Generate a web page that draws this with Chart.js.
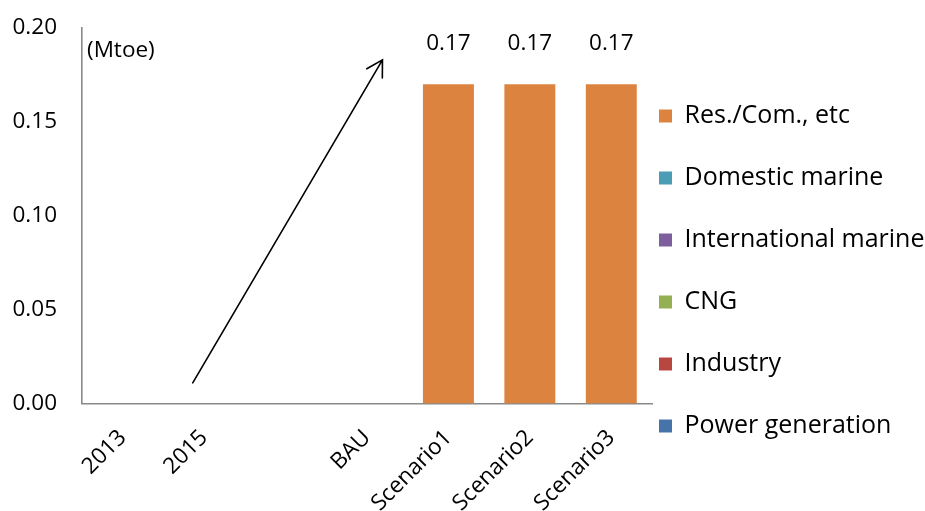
<!DOCTYPE html>
<html>
<head>
<meta charset="utf-8">
<title>Mtoe by sector</title>
<script src="https://cdn.jsdelivr.net/npm/chart.js@4/dist/chart.umd.min.js"></script>
<style>
  html, body { margin: 0; padding: 0; background: #ffffff; }
  canvas { display: block; }
</style>
</head>
<body>
<canvas id="chart" width="925" height="511"></canvas>
<script>
// ---- data ----
const categories = ['2013', '2015', '', 'BAU', 'Scenario1', 'Scenario2', 'Scenario3'];
const powerGeneration     = [0, 0, null, 0, 0, 0, 0];
const industry            = [0, 0, null, 0, 0, 0, 0];
const cng                 = [0, 0, null, 0, 0, 0, 0];
const internationalMarine = [0, 0, null, 0, 0, 0, 0];
const domesticMarine      = [0, 0, null, 0, 0, 0, 0];
const resCom              = [0, 0, null, 0, 0.17, 0.17, 0.17];
const yMin = 0;
const yMax = 0.2;
const yStep = 0.05;
const unitLabel = '(Mtoe)';
// trend arrow ends, as [category index, Mtoe]
const arrowFrom = [0.86, 0.011];
const arrowTo = [3.19, 0.183];

// ---- styling ----
const FONT = '"Open Sans"';
const AXIS_FONT_SIZE = 22.5;
const LEGEND_FONT_SIZE = 25;
const AXIS_COLOR = '#898989';

Chart.defaults.font.family = FONT;
Chart.defaults.font.size = AXIS_FONT_SIZE;
Chart.defaults.color = '#000000';

function series(label, data, color) {
  return {
    label,
    data,
    backgroundColor: color,
    borderWidth: 0,
    categoryPercentage: 1,
    barPercentage: 0.626
  };
}

// legend sits just right of the plot, with wide row spacing
const legendPlacement = {
  id: 'legendPlacement',
  afterLayout(chart) {
    const lg = chart.legend;
    if (!lg) return;
    lg.left = chart.chartArea.right + 7 - lg.options.labels.padding;
    lg.width = lg.right - lg.left;
  }
};

// unit caption, value labels over the stack tops and the trend arrow
const annotations = {
  id: 'annotations',
  afterDatasetsDraw(chart) {
    const ctx = chart.ctx;
    const area = chart.chartArea;
    const xs = chart.scales.x;
    const ys = chart.scales.y;
    ctx.save();
    ctx.fillStyle = '#000';
    ctx.font = AXIS_FONT_SIZE + 'px ' + FONT;

    ctx.textAlign = 'left';
    ctx.textBaseline = 'middle';
    ctx.fillText(unitLabel, area.left + 5, area.top + 23);

    const topIndex = chart.data.datasets.length - 1;
    const meta = chart.getDatasetMeta(topIndex);
    ctx.textAlign = 'center';
    meta.data.forEach((bar, i) => {
      const v = chart.data.datasets[topIndex].data[i];
      if (v && v > 0) {
        ctx.fillText(v.toFixed(2), bar.x, bar.y - 41);
      }
    });

    const x0 = xs.getPixelForValue(arrowFrom[0]);
    const y0 = ys.getPixelForValue(arrowFrom[1]);
    const x1 = xs.getPixelForValue(arrowTo[0]);
    const y1 = ys.getPixelForValue(arrowTo[1]);
    const ang = Math.atan2(y1 - y0, x1 - x0);
    const head = 18;
    const spread = Math.PI / 6;
    ctx.strokeStyle = '#000';
    ctx.lineWidth = 1.6;
    ctx.lineCap = 'round';
    ctx.beginPath();
    ctx.moveTo(x0, y0);
    ctx.lineTo(x1, y1);
    ctx.moveTo(x1 - head * Math.cos(ang - spread), y1 - head * Math.sin(ang - spread));
    ctx.lineTo(x1, y1);
    ctx.lineTo(x1 - head * Math.cos(ang + spread), y1 - head * Math.sin(ang + spread));
    ctx.stroke();
    ctx.restore();
  }
};

new Chart(document.getElementById('chart'), {
  type: 'bar',
  data: {
    labels: categories,
    datasets: [
      series('Power generation', powerGeneration, '#4673AA'),
      series('Industry', industry, '#B8473F'),
      series('CNG', cng, '#93B053'),
      series('International marine', internationalMarine, '#7D5F9E'),
      series('Domestic marine', domesticMarine, '#4A9DB5'),
      series('Res./Com., etc', resCom, '#DC843F')
    ]
  },
  options: {
    responsive: false,
    animation: false,
    devicePixelRatio: 1,
    layout: { padding: { top: 28, left: 12, right: 0, bottom: -3 } },
    plugins: {
      legend: {
        position: 'right',
        reverse: true,
        maxWidth: 273,
        labels: {
          boxWidth: 13,
          boxHeight: 13,
          padding: 37,
          color: '#000',
          font: { family: FONT, size: LEGEND_FONT_SIZE }
        }
      },
      tooltip: { enabled: false }
    },
    scales: {
      x: {
        stacked: true,
        grid: { display: false, drawTicks: false },
        border: { display: true, color: AXIS_COLOR, width: 1.6 },
        ticks: {
          autoSkip: false,
          minRotation: 45,
          maxRotation: 45,
          padding: 21,
          color: '#000',
          font: { family: FONT, size: AXIS_FONT_SIZE }
        },
        afterFit(scale) { scale.height = 110.5; }
      },
      y: {
        stacked: true,
        min: yMin,
        max: yMax,
        grid: { display: false, drawTicks: false },
        border: { display: true, color: AXIS_COLOR, width: 1.6 },
        ticks: {
          stepSize: yStep,
          padding: 25,
          color: '#000',
          font: { family: FONT, size: AXIS_FONT_SIZE },
          callback: (v) => Number(v).toFixed(2)
        },
        afterFit(scale) {
          scale.width = 70;
          scale.paddingTop = 0;
          scale.paddingBottom = 0;
        }
      }
    }
  },
  plugins: [legendPlacement, annotations]
});
</script>
</body>
</html>
